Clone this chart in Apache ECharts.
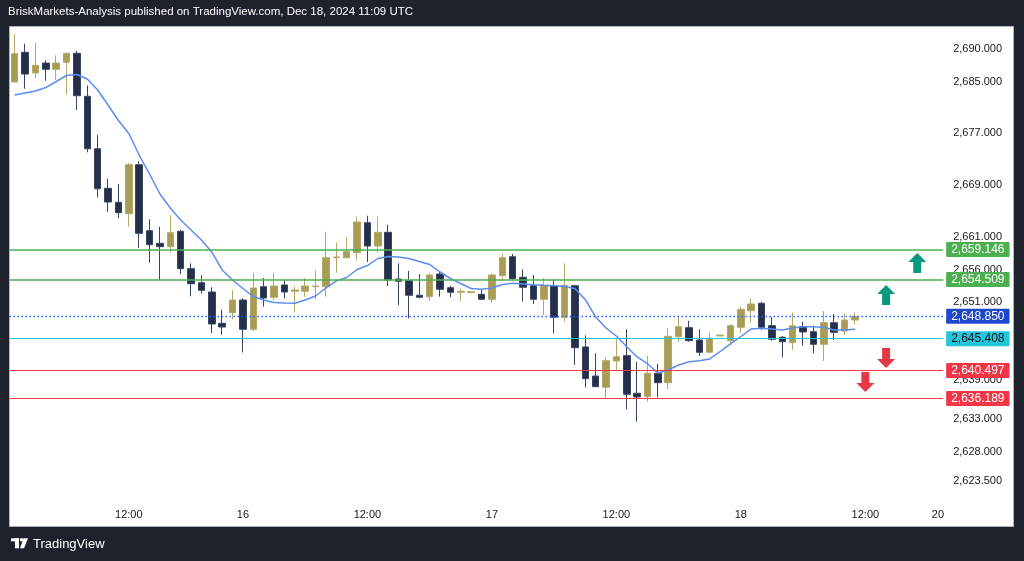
<!DOCTYPE html>
<html>
<head>
<meta charset="utf-8">
<script src="https://cdn.jsdelivr.net/npm/echarts@6/dist/echarts.min.js"></script>
<style>
html,body{margin:0;padding:0;background:#1e222d;}
#chart{width:1024px;height:561px;}
</style>
</head>
<body>
<div id="chart"></div>
<script>
// ---- data (1h candles) ----
const opens = [2684.92,2689.49,2686.31,2687.84,2686.88,2687.95,2689.34,2682.72,2674.65,2668.56,2666.40,2664.65,2672.19,2662.03,2660.09,2659.57,2661.94,2656.18,2654.02,2652.59,2647.77,2649.41,2651.36,2646.85,2653.41,2651.78,2653.67,2652.70,2652.70,2653.41,2653.41,2657.87,2657.87,2658.64,2663.26,2659.67,2661.78,2654.59,2654.33,2652.09,2651.87,2655.36,2653.25,2652.55,2652.49,2652.24,2651.47,2655.10,2658.03,2654.86,2653.56,2651.47,2653.56,2648.70,2653.56,2644.13,2639.66,2637.92,2641.97,2642.79,2637.00,2636.48,2640.08,2638.63,2645.71,2647.10,2645.20,2643.31,2645.82,2645.10,2647.16,2649.71,2650.85,2647.41,2645.62,2644.79,2647.25,2646.48,2644.54,2647.87,2646.59,2648.28];
const closes = [2689.28,2686.15,2687.49,2686.88,2687.84,2689.34,2682.81,2674.65,2668.49,2666.45,2664.80,2672.19,2661.63,2659.87,2659.57,2661.72,2656.18,2653.87,2652.85,2647.67,2647.20,2651.36,2646.85,2653.21,2651.67,2653.52,2652.59,2652.90,2653.52,2653.52,2657.87,2657.98,2658.80,2663.37,2659.67,2661.78,2654.44,2654.24,2652.09,2651.78,2655.21,2653.01,2652.55,2652.70,2652.64,2651.47,2655.21,2657.87,2654.64,2653.32,2651.47,2653.62,2648.70,2653.62,2644.02,2639.25,2638.02,2642.02,2642.63,2636.85,2636.43,2640.08,2638.63,2645.77,2647.25,2645.10,2643.31,2645.47,2645.97,2647.41,2649.93,2650.75,2647.16,2645.31,2644.94,2647.41,2646.44,2644.54,2647.87,2646.39,2648.28,2648.85];
const lows = [2684.92,2683.89,2685.54,2685.12,2685.27,2682.97,2680.61,2674.10,2667.17,2664.91,2663.98,2662.65,2659.37,2657.10,2654.44,2658.64,2655.36,2651.93,2652.33,2646.28,2646.02,2648.39,2643.28,2646.59,2650.33,2651.36,2651.62,2649.41,2651.87,2651.47,2651.87,2655.56,2657.78,2657.41,2657.21,2658.64,2653.52,2650.59,2648.54,2651.62,2651.25,2651.87,2651.78,2651.21,2652.49,2651.36,2650.95,2654.33,2654.33,2651.16,2650.75,2649.05,2646.24,2648.08,2641.35,2637.92,2638.02,2636.12,2640.39,2634.54,2632.63,2635.71,2636.38,2637.66,2644.85,2644.94,2642.79,2643.31,2645.82,2644.70,2646.33,2647.93,2646.74,2645.10,2642.54,2643.66,2644.33,2643.16,2641.97,2645.20,2645.97,2647.62];
const highs = [2692.31,2690.82,2690.92,2688.26,2689.03,2689.34,2689.74,2684.41,2676.81,2670.03,2669.22,2672.45,2672.71,2663.78,2662.65,2664.40,2662.14,2657.01,2655.16,2653.32,2649.87,2652.90,2651.62,2655.56,2654.75,2655.56,2654.44,2653.41,2654.75,2655.87,2661.88,2660.18,2661.01,2664.18,2664.34,2664.18,2662.95,2657.01,2655.83,2655.36,2655.47,2655.78,2653.56,2653.10,2652.64,2653.01,2655.47,2658.44,2658.44,2656.09,2655.21,2654.75,2654.55,2657.01,2653.67,2645.93,2643.16,2642.54,2645.47,2646.85,2641.86,2642.79,2641.51,2647.00,2648.90,2648.17,2646.85,2646.39,2645.97,2647.62,2650.33,2651.62,2651.05,2648.70,2645.82,2649.41,2648.02,2647.41,2649.67,2649.21,2649.31,2649.41];
const maLine = [2682.92,2683.23,2683.53,2684.07,2685.00,2685.92,2686.07,2685.38,2683.69,2681.38,2678.99,2676.99,2673.68,2670.76,2667.68,2665.52,2663.68,2662.14,2660.60,2658.75,2655.98,2654.44,2653.13,2651.90,2651.36,2650.98,2650.90,2650.85,2651.36,2651.98,2653.21,2654.29,2654.82,2656.06,2656.67,2657.75,2658.06,2657.98,2657.75,2657.29,2656.83,2655.67,2654.67,2653.90,2653.13,2653.01,2653.21,2653.75,2653.93,2653.82,2653.70,2653.62,2653.56,2653.44,2653.13,2651.44,2648.74,2647.05,2645.82,2644.17,2642.59,2641.55,2640.12,2640.58,2641.35,2641.85,2642.00,2642.28,2643.43,2644.59,2645.74,2646.90,2647.00,2646.90,2646.74,2647.05,2647.25,2647.25,2647.13,2646.74,2646.74,2646.85];
const slotCount = 90;
const timeLabels = {11:'12:00',22:'16',34:'12:00',46:'17',58:'12:00',70:'18',82:'12:00',89:'20'};
const priceTicks = [2623.5,2628,2633,2639,2651,2656,2661,2669,2677,2685,2690];
const levelValues = [2659.146,2654.509,2648.850,2645.408,2640.497,2636.189];
const levelColors = ['#4caf50','#4caf50','#2962ff','#26c6da','#f23645','#f23645'];
const levelBoxColors = ['#4caf50','#4caf50','#1e48cc','#26c6da','#f23645','#f23645'];
const levelTextColors = ['#ffffff','#ffffff','#ffffff','#131722','#ffffff','#ffffff'];
const arrowIdx = [87,84,84,82];
const arrowPrice = [2657.06,2652.13,2642.43,2638.74];
const arrowUp = [true,true,false,false];

// ---- build ----
const cats = [];
for (let i=0;i<slotCount;i++) cats.push(timeLabels[i] || '');
const candles = opens.map((o,i)=>[o,closes[i],lows[i],highs[i]]);
const fmt = v => v.toLocaleString('en-US',{minimumFractionDigits:3,maximumFractionDigits:3});
const upPath = 'path://M9,0 L18,9 L13,9 L13,20 L5,20 L5,9 L0,9 Z';
const downPath = 'path://M5,0 L13,0 L13,11 L18,11 L9,20 L0,11 L5,11 Z';
const FONT = '"Liberation Sans", Arial, sans-serif';

const chart = echarts.init(document.getElementById('chart'));
const slotW = 10.374;
chart.setOption({
  backgroundColor:'#1e222d',
  animation:false,
  graphic:[
    {type:'rect',z:-10,shape:{x:9.5,y:26.5,width:1004,height:500},style:{fill:'#ffffff',stroke:'#b2b5be',lineWidth:1}},
    {type:'text',left:8,top:6,style:{text:'BriskMarkets-Analysis published on TradingView.com, Dec 18, 2024 11:09 UTC',fill:'#ffffff',font:'11.5px '+FONT}},
    {type:'group',left:11,top:538,children:[
      {type:'rect',shape:{x:0,y:1,width:8,height:3},style:{fill:'#ffffff'}},
      {type:'rect',shape:{x:4,y:1,width:4,height:10},style:{fill:'#ffffff'}},
      {type:'circle',shape:{cx:10.5,cy:2.5,r:1.8},style:{fill:'#ffffff'}},
      {type:'polygon',shape:{points:[[12.5,1],[17,1],[13,11],[9,11]]},style:{fill:'#ffffff'}}
    ]},
    {type:'text',left:33,top:538,style:{text:'TradingView',fill:'#ffffff',font:'13px '+FONT}}
  ],
  grid:{left:9.5,top:27,width:slotCount*slotW,bottom:61},
  xAxis:{type:'category',data:cats,boundaryGap:true,
    axisLine:{show:false},axisTick:{show:false},splitLine:{show:false},
    axisLabel:{interval:0,margin:9,color:'#131722',fontSize:11,fontFamily:FONT}},
  yAxis:{type:'value',position:'right',min:2620.57,max:2693.39,scale:true,
    axisLine:{show:false},axisTick:{show:false},splitLine:{show:false},
    axisLabel:{customValues:priceTicks,margin:10,color:'#131722',fontSize:11,fontFamily:FONT,formatter:v=>fmt(v)}},
  series:[
    {type:'candlestick',data:candles,barWidth:7,
      itemStyle:{color:'#a99d55',color0:'#24304a',borderColor:'#b3a868',borderColor0:'#3a4560',borderWidth:1},
      markLine:{symbol:'none',silent:true,animation:false,
        data:levelValues.map((v,i)=>({yAxis:v,
          lineStyle:{color:levelColors[i],width:i===2?1.3:(i<2?1.5:1.2),type:i===2?[1.5,2.5]:'solid',opacity:1},
          label:{show:true,position:'end',distance:3,formatter:fmt(v),backgroundColor:levelBoxColors[i],color:levelTextColors[i],
            padding:[2,5,1,5],fontSize:12,fontFamily:FONT,borderRadius:1}}))},
      markPoint:{silent:true,animation:false,label:{show:false},
        data:arrowIdx.map((ix,i)=>({coord:[ix,arrowPrice[i]],symbol:arrowUp[i]?upPath:downPath,symbolSize:[18,20],symbolOffset:[0,0],
          itemStyle:{color:arrowUp[i]?'#089981':'#e53945'}}))}
    },
    {type:'line',data:maLine,symbol:'none',smooth:false,lineStyle:{color:'#5b8def',width:1.5},z:3}
  ]
});
</script>
</body>
</html>
